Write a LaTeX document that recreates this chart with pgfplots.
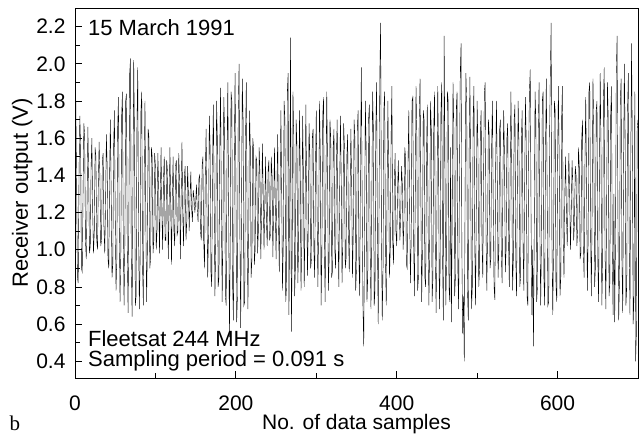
\documentclass[border=0pt]{standalone}
\usepackage{pgfplots}
\pgfplotsset{compat=1.18}
\usepackage{pgfplotstable}
\usepackage{fontspec}
\setmainfont{Liberation Sans}
\newfontfamily\seriffont{Liberation Serif}
\pgfplotstableread[header=false,row sep=\\]{
1.70\\1.80\\1.35\\0.85\\0.82\\1.40\\1.72\\1.55\\0.90\\0.88\\
1.30\\1.68\\1.62\\1.05\\0.95\\1.25\\1.66\\1.40\\0.98\\1.02\\
1.45\\1.60\\1.20\\0.98\\1.10\\1.55\\1.50\\1.05\\1.00\\1.35\\
1.58\\1.38\\1.02\\1.05\\1.48\\1.52\\1.12\\0.98\\1.25\\1.62\\
1.45\\0.95\\0.90\\1.40\\1.70\\1.30\\0.85\\0.92\\1.55\\1.75\\
1.20\\0.78\\0.95\\1.65\\1.82\\1.15\\0.72\\1.00\\1.72\\1.85\\
1.10\\0.70\\1.05\\1.80\\1.84\\1.00\\0.66\\1.20\\1.95\\2.03\\
0.95\\0.64\\1.30\\2.02\\1.60\\0.70\\0.75\\1.65\\1.98\\1.10\\
0.68\\0.95\\1.75\\1.85\\0.90\\0.70\\1.40\\1.80\\1.20\\0.72\\
1.00\\1.65\\1.60\\0.90\\0.95\\1.55\\1.50\\0.98\\1.05\\1.52\\
1.45\\1.00\\1.10\\1.52\\1.35\\0.98\\1.25\\1.55\\1.20\\1.00\\
1.38\\1.50\\1.05\\1.05\\1.48\\1.42\\0.95\\1.20\\1.55\\1.25\\
0.92\\1.30\\1.50\\1.10\\1.02\\1.45\\1.48\\1.08\\1.10\\1.52\\
1.35\\0.95\\1.28\\1.58\\1.18\\1.02\\1.40\\1.45\\1.05\\1.15\\
1.45\\1.30\\1.10\\1.28\\1.42\\1.22\\1.15\\1.32\\1.28\\1.20\\
1.25\\1.35\\1.22\\1.15\\1.38\\1.40\\1.10\\1.05\\1.45\\1.50\\
1.05\\0.90\\1.40\\1.65\\1.25\\0.85\\1.10\\1.72\\1.55\\0.88\\
0.80\\1.45\\1.78\\1.30\\0.75\\1.05\\1.80\\1.60\\0.80\\0.85\\
1.55\\1.87\\1.20\\0.72\\1.15\\1.82\\1.65\\0.75\\0.70\\1.50\\
1.90\\1.25\\0.53\\1.00\\1.85\\1.80\\0.80\\0.62\\1.45\\1.95\\
1.40\\0.61\\0.75\\1.75\\2.00\\1.10\\0.58\\1.20\\1.92\\1.70\\
0.70\\0.72\\1.60\\1.90\\1.15\\0.68\\1.10\\1.75\\1.55\\0.85\\
0.95\\1.60\\1.55\\0.92\\1.00\\1.50\\1.48\\0.98\\1.10\\1.55\\
1.40\\0.95\\1.20\\1.57\\1.30\\1.00\\1.25\\1.50\\1.15\\1.02\\
1.42\\1.48\\1.05\\1.08\\1.50\\1.40\\0.96\\1.22\\1.55\\1.25\\
0.95\\1.30\\1.62\\1.15\\0.88\\1.35\\1.75\\1.30\\0.78\\1.05\\
1.80\\1.70\\0.72\\0.80\\1.85\\1.95\\0.65\\1.20\\2.14\\0.56\\
0.95\\1.85\\1.60\\0.75\\0.90\\1.70\\1.55\\0.82\\1.00\\1.75\\
1.45\\0.78\\1.05\\1.72\\1.40\\0.80\\1.15\\1.78\\1.35\\0.86\\
1.10\\1.68\\1.50\\0.90\\0.95\\1.60\\1.65\\1.00\\0.85\\1.45\\
1.75\\1.20\\0.80\\1.15\\1.80\\1.50\\0.70\\1.00\\1.72\\1.82\\
1.05\\0.72\\1.35\\1.85\\1.45\\0.78\\0.95\\1.70\\1.60\\0.85\\
0.88\\1.55\\1.65\\1.00\\0.90\\1.50\\1.70\\1.10\\0.80\\1.30\\
1.72\\1.40\\0.82\\1.05\\1.68\\1.55\\0.90\\0.95\\1.50\\1.62\\
1.10\\0.88\\1.30\\1.65\\1.35\\0.85\\1.10\\1.70\\1.60\\0.78\\
0.90\\1.65\\1.75\\0.95\\0.75\\1.50\\1.98\\1.30\\0.70\\0.48\\
1.10\\1.80\\1.55\\0.72\\0.85\\1.70\\1.78\\1.00\\0.68\\1.25\\
1.85\\1.65\\0.70\\0.78\\1.65\\1.90\\1.05\\0.60\\1.20\\1.95\\
2.22\\1.10\\0.62\\0.90\\1.75\\1.85\\0.95\\0.70\\1.30\\1.80\\
1.40\\0.85\\1.00\\1.60\\1.88\\1.05\\0.92\\1.35\\1.52\\1.10\\
1.02\\1.30\\1.48\\1.25\\1.05\\1.20\\1.45\\1.35\\1.00\\1.15\\
1.55\\1.50\\0.92\\0.90\\1.45\\1.75\\1.25\\0.82\\1.05\\1.80\\
1.82\\1.05\\0.75\\1.25\\1.88\\1.60\\0.78\\0.85\\1.70\\1.92\\
1.30\\0.72\\1.00\\1.75\\1.70\\0.85\\0.80\\1.50\\1.78\\1.15\\
0.70\\1.05\\1.80\\1.65\\0.72\\0.85\\1.65\\1.85\\1.00\\0.66\\
1.20\\1.88\\1.50\\0.68\\0.90\\1.75\\1.90\\0.95\\0.62\\2.15\\
1.45\\0.70\\0.95\\1.85\\1.80\\0.80\\0.72\\1.55\\0.61\\1.20\\
1.90\\1.65\\0.75\\0.85\\1.75\\1.85\\0.90\\0.68\\1.40\\1.95\\
2.11\\1.00\\0.55\\0.75\\0.40\\1.30\\1.95\\1.80\\0.78\\0.62\\
1.50\\1.93\\1.35\\0.68\\0.80\\1.70\\1.88\\1.05\\0.70\\1.25\\
1.80\\1.55\\0.80\\0.90\\1.65\\1.75\\1.05\\0.85\\1.40\\1.85\\
1.90\\1.10\\0.78\\1.10\\1.70\\1.62\\0.90\\0.95\\1.55\\1.80\\
1.25\\0.80\\0.73\\1.45\\1.80\\1.40\\0.85\\1.00\\1.65\\1.70\\
1.00\\0.82\\1.35\\1.75\\1.50\\0.88\\1.00\\1.60\\1.68\\1.05\\
0.80\\1.40\\1.85\\1.45\\0.78\\0.95\\1.70\\1.78\\0.95\\0.75\\
1.35\\1.80\\1.55\\0.80\\0.85\\1.60\\1.75\\1.05\\0.78\\1.30\\
1.82\\1.60\\0.75\\0.70\\1.50\\1.85\\1.97\\1.20\\0.65\\1.00\\
0.48\\1.10\\1.85\\1.70\\0.72\\0.80\\1.65\\1.90\\1.10\\0.70\\
1.05\\1.80\\1.85\\0.85\\0.70\\1.55\\1.92\\1.35\\0.70\\0.72\\
1.60\\1.95\\2.22\\1.05\\0.65\\1.00\\1.80\\1.75\\0.80\\0.72\\
1.45\\1.88\\1.50\\0.75\\0.85\\1.70\\1.88\\1.05\\0.85\\1.30\\
1.50\\1.20\\1.02\\1.28\\1.52\\1.30\\1.00\\1.20\\1.48\\1.35\\
1.05\\1.15\\1.45\\1.40\\1.02\\1.10\\1.55\\1.45\\0.95\\0.98\\
1.60\\1.70\\1.00\\0.85\\1.45\\1.82\\1.40\\0.78\\1.05\\1.85\\
1.90\\1.10\\0.75\\1.25\\1.92\\1.65\\0.80\\0.90\\1.75\\1.80\\
0.95\\0.72\\1.40\\1.95\\1.55\\0.70\\0.92\\1.80\\1.98\\1.00\\
0.68\\1.25\\1.90\\1.70\\0.75\\0.82\\1.72\\1.88\\1.00\\0.65\\
1.30\\0.61\\1.05\\1.95\\2.15\\1.20\\0.62\\0.85\\1.80\\1.92\\
0.95\\0.66\\1.40\\2.00\\1.60\\0.70\\0.80\\1.75\\1.95\\1.05\\
0.65\\1.50\\2.11\\1.50\\0.60\\0.75\\1.85\\0.40\\0.55\\1.65\\
1.70\\
}\datatable
\begin{document}
\begin{tikzpicture}
\begin{axis}[
  scale only axis,
  width=563pt, height=370pt,
  xmin=0, xmax=700, ymin=0.31, ymax=2.30,
  xtick={0,200,400,600}, minor x tick num=1,
  ytick={0.4,0.6,...,2.21}, minor y tick num=1,
  xtick pos=left, ytick pos=left, tick align=inside,
  major tick length=7pt, minor tick length=5pt,
  axis line style={line width=0.9pt},
  tick style={line width=0.8pt, black},
  /pgf/number format/assume math mode=true,
  yticklabel style={/pgf/number format/fixed, /pgf/number format/fixed zerofill, /pgf/number format/precision=1, font=\fontsize{21}{25}\selectfont, xshift=-6pt},
  xticklabel style={font=\fontsize{21}{25}\selectfont, yshift=-14pt},
  xlabel={No. of data samples},
  ylabel={Receiver output (V)},
  xlabel style={font=\fontsize{21}{25}\selectfont, at={(axis description cs:0.5,-0.1405)}, anchor=base},
  ylabel style={font=\fontsize{22}{26}\selectfont, at={(axis description cs:-0.094,0.5)}, anchor=center},
  clip=true,
]
\addplot[black, line width=0.4pt] table[x expr=\coordindex, y index=0] {\datatable};
\node[anchor=west, font=\fontsize{22}{26}\selectfont, inner sep=0pt] at (axis description cs:0.023,0.946) {15 March 1991};
\node[anchor=south west, align=left, font=\fontsize{22}{20}\selectfont, inner sep=0pt] at (axis description cs:0.023,0.018) {Fleetsat 244 MHz\\Sampling period = 0.091 s};
\end{axis}
\node[anchor=base, font=\seriffont\fontsize{21}{25}\selectfont, inner sep=0pt] at ([shift={(-60pt,-52pt)}]current axis.south west) {b};
\pgfresetboundingbox
\path ([shift={(-75pt,-56pt)}]current axis.south west) rectangle ([shift={(4pt,8pt)}]current axis.north east);
\end{tikzpicture}
\end{document}
